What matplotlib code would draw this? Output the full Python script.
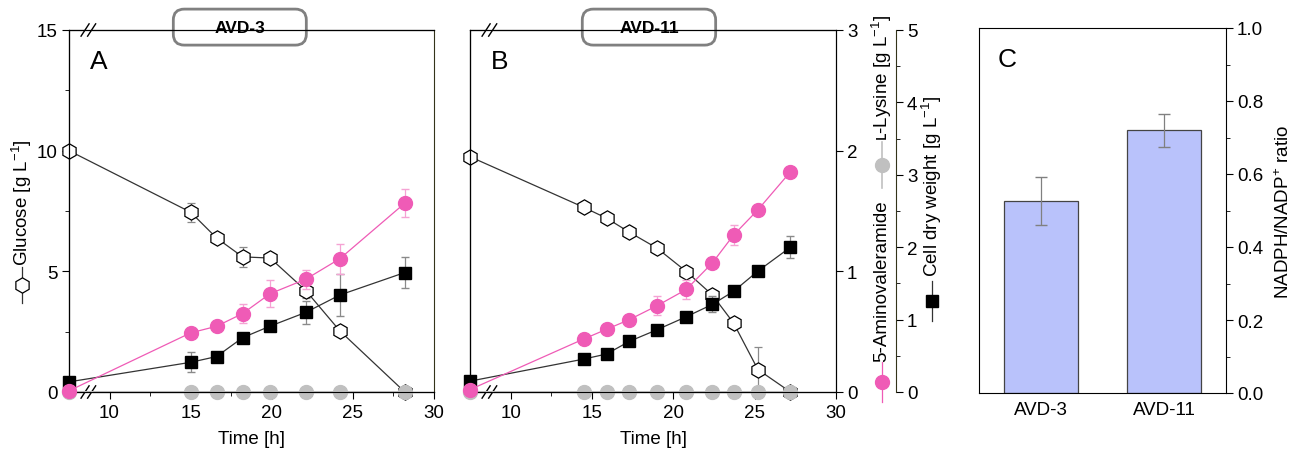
import numpy as np
import matplotlib
matplotlib.use("Agg")
import matplotlib.pyplot as plt
from matplotlib.lines import Line2D
from matplotlib.patches import FancyBboxPatch
from matplotlib.ticker import MultipleLocator, NullLocator, FormatStrFormatter

plt.rcParams["font.family"] = ["Liberation Sans", "DejaVu Sans"]
plt.rcParams["mathtext.fontset"] = "custom"
plt.rcParams["mathtext.rm"] = "Liberation Sans"
plt.rcParams["mathtext.it"] = "Liberation Sans:italic"
plt.rcParams["mathtext.bf"] = "Liberation Sans:bold"

# ---- panel A (AVD-3) ----
time_a = [7.5, 15.0, 16.6, 18.2, 19.9, 22.1, 24.2, 28.2]
glc_a = [10.0, 7.45, 6.38, 5.6, 5.55, 4.2, 2.53, 0.0]
glc_a_err = [0, 0.4, 0.1, 0.4, 0.1, 0.3, 0.15, 0]
ava_a = [0.01, 0.49, 0.545, 0.65, 0.815, 0.935, 1.105, 1.565]
ava_a_err = [0, 0.02, 0.02, 0.08, 0.11, 0.08, 0.125, 0.115]
lys_a = [0, 0, 0, 0, 0, 0, 0, 0]
cdw_a = [0.14, 0.41, 0.49, 0.75, 0.91, 1.10, 1.34, 1.65]
cdw_a_err = [0, 0.14, 0.03, 0.03, 0.05, 0.16, 0.29, 0.21]

# ---- panel B (AVD-11) ----
time_b = [7.5, 14.5, 15.9, 17.3, 19.0, 20.8, 22.4, 23.7, 25.2, 27.2]
glc_b = [9.75, 7.65, 7.2, 6.62, 5.96, 4.99, 4.02, 2.86, 0.93, 0.0]
glc_b_err = [0, 0.15, 0.15, 0.15, 0.15, 0.1, 0.15, 0.1, 0.95, 0]
ava_b = [0.02, 0.44, 0.52, 0.6, 0.715, 0.85, 1.07, 1.30, 1.51, 1.825]
ava_b_err = [0, 0.02, 0.02, 0.03, 0.08, 0.08, 0.02, 0.08, 0.02, 0.02]
lys_b = [0, 0, 0, 0, 0, 0, 0, 0, 0, 0]
cdw_b = [0.15, 0.455, 0.525, 0.70, 0.86, 1.04, 1.21, 1.39, 1.67, 2.0]
cdw_b_err = [0, 0.02, 0.02, 0.02, 0.02, 0.03, 0.11, 0.03, 0.03, 0.15]

# ---- panel C ----
strains = ["AVD-3", "AVD-11"]
nadph_ratio = [0.526, 0.72]
nadph_err = [0.066, 0.045]

PINK = "#ef5bb6"
GRAY = "#c0c0c0"
BAR = "#b9c2fb"
FS = 13.5
W, H = 1291, 456

fig = plt.figure(figsize=(W / 100, H / 100), dpi=100)


def px(x, y):
    return x / W, 1 - y / H


def axes_rect(x0, x1, y0, y1):
    return [x0 / W, 1 - y1 / H, (x1 - x0) / W, (y1 - y0) / H]


def break_marks(ax, xpos):
    for yy in (0, 1):
        ax.plot([xpos - 0.006, xpos + 0.006], [yy, yy], color="white", lw=2,
                transform=ax.transAxes, clip_on=False, zorder=10)
        for dx in (-0.009, 0.009):
            ax.plot([xpos + dx - 0.011, xpos + dx + 0.011], [yy - 0.017, yy + 0.017],
                    color="black", lw=1.0, transform=ax.transAxes, clip_on=False, zorder=11)


def title_box(ax, xc, text):
    bw, bh = 133 / 365, 36 / 362
    box = FancyBboxPatch((xc - bw / 2, 1.008 - bh / 2), bw, bh,
                         boxstyle="round,pad=0,rounding_size=0.03",
                         transform=ax.transAxes, facecolor="white",
                         edgecolor="#808080", lw=2, clip_on=False, zorder=12)
    ax.add_patch(box)
    ax.text(xc, 1.008, text, transform=ax.transAxes, ha="center", va="center",
            fontsize=12.5, fontweight="bold", zorder=13)


def time_panel(rect, t, glc, glc_err, ava, ava_err, lys, cdw, cdw_err,
               letter, name, show_left, show_right):
    ax = fig.add_axes(rect)
    ax_c = ax.twinx()
    ax_p = ax.twinx()

    ax.errorbar(t, glc, yerr=glc_err, color="#333333", lw=0.9, marker="h",
                ms=11, mfc="white", mec="black", mew=0.9, ecolor="#8a8a8a",
                elinewidth=0.9, capsize=3, clip_on=False, zorder=3)
    ax_c.errorbar(t, cdw, yerr=cdw_err, color="#333333", lw=0.9, marker="s",
                  ms=8.5, mfc="black", mec="black", ecolor="#8a8a8a",
                  elinewidth=0.9, capsize=3, clip_on=False, zorder=3)
    ax_p.plot(t, lys, color=GRAY, lw=1.5, marker="o", ms=10, mec=GRAY,
              clip_on=False, zorder=2)
    ax_p.errorbar(t, ava, yerr=ava_err, color=PINK, lw=0.9, marker="o",
                  ms=10, mec=PINK, ecolor="#f5a3d4", elinewidth=0.9,
                  capsize=3, clip_on=False, zorder=3)

    ax.set_xlim(7.5, 30)
    ax.set_ylim(0, 15)
    ax_p.set_ylim(0, 3)
    ax_c.set_ylim(0, 5)

    ax.xaxis.set_major_locator(MultipleLocator(5))
    ax.xaxis.set_minor_locator(MultipleLocator(2.5))
    ax.tick_params(axis="x", which="major", direction="out", length=5,
                   labelsize=FS, pad=4)
    ax.tick_params(axis="x", which="minor", direction="out", length=3)
    ax.set_xlabel("Time [h]", fontsize=FS, labelpad=6)

    if show_left:
        ax.yaxis.set_major_locator(MultipleLocator(5))
        ax.yaxis.set_minor_locator(MultipleLocator(2.5))
        ax.tick_params(axis="y", which="major", direction="out", length=5,
                       labelsize=FS, pad=3)
        ax.tick_params(axis="y", which="minor", direction="out", length=3)
    else:
        ax.yaxis.set_major_locator(NullLocator())
        ax.yaxis.set_minor_locator(NullLocator())

    for a in (ax_c, ax_p):
        a.spines["right"].set_visible(False)
        a.yaxis.set_major_locator(NullLocator())
        a.yaxis.set_minor_locator(NullLocator())

    if show_right:
        ax_p.spines["right"].set_visible(True)
        ax_p.yaxis.set_major_locator(MultipleLocator(1))
        ax_p.tick_params(axis="y", direction="out", length=5, labelsize=FS, pad=3)
        ax_c.spines["right"].set_visible(True)
        # 60 px outward at 100 dpi
        ax_c.spines["right"].set_position(("outward", 43.2))
        ax_c.spines["right"].set_color("#33331a")
        ax_c.yaxis.set_major_locator(MultipleLocator(1))
        ax_c.yaxis.set_minor_locator(MultipleLocator(0.5))
        ax_c.tick_params(axis="y", which="major", direction="out", length=5,
                         labelsize=FS, pad=3)
        ax_c.tick_params(axis="y", which="minor", direction="out", length=3)
    else:
        ax.spines["right"].set_color("#33331a")

    ax.text(0.058, 0.915, letter, transform=ax.transAxes, fontsize=19,
            ha="left", va="center")
    break_marks(ax, 0.053)
    title_box(ax, 0.468 if name == "AVD-3" else 0.489, name)
    return ax


time_panel(axes_rect(69, 434, 31, 393), time_a, glc_a, glc_a_err, ava_a,
           ava_a_err, lys_a, cdw_a, cdw_a_err, "A", "AVD-3", True, False)
time_panel(axes_rect(470, 836, 31, 393), time_b, glc_b, glc_b_err, ava_b,
           ava_b_err, lys_b, cdw_b, cdw_b_err, "B", "AVD-11", False, True)


# ---- axis titles with symbols ----
def symbol(x, yc, half, **kw):
    x0, y0 = px(x, yc - half)
    _, y1 = px(x, yc)
    _, y2 = px(x, yc + half)
    fig.add_artist(Line2D([x0, x0, x0], [y0, y1, y2], markevery=[1],
                          transform=fig.transFigure, **kw))


def vlabel(x, y_bottom, text):
    fig.text(*px(x, y_bottom), text, rotation=90, ha="center", va="bottom",
             fontsize=FS)


symbol(22, 286, 18, color="#333333", lw=0.9, marker="h", ms=11,
       mfc="white", mec="black", mew=0.9)
vlabel(22, 266, r"Glucose [g L$^{-1}$]")

symbol(882, 383, 20, color=PINK, lw=0.9, marker="o", ms=10, mec=PINK)
vlabel(882, 362, "5-Aminovaleramide")
symbol(882, 166, 23, color=GRAY, lw=1.2, marker="o", ms=10, mec=GRAY)
vlabel(882, 141, r"ʟ-Lysine [g L$^{-1}$]")

symbol(932, 302, 20, color="#333333", lw=0.9, marker="s", ms=8.5,
       mfc="black", mec="black")
vlabel(932, 277, r"Cell dry weight [g L$^{-1}$]")

# ---- panel C ----
axc = fig.add_axes(axes_rect(979, 1226, 29, 394))
xpos = np.arange(len(strains))
axc.bar(xpos, nadph_ratio, width=0.6, color=BAR, edgecolor="#444444", lw=0.9,
        zorder=2)
axc.errorbar(xpos, nadph_ratio, yerr=nadph_err, fmt="none", ecolor="#808080",
             elinewidth=0.9, capsize=4, zorder=3)
axc.set_xlim(-0.5, 1.5)
axc.set_ylim(0, 1.0)
axc.set_xticks(xpos)
axc.set_xticklabels(strains)
axc.tick_params(axis="x", length=0, labelsize=FS, pad=6)
axc.yaxis.tick_right()
axc.yaxis.set_label_position("right")
axc.yaxis.set_major_locator(MultipleLocator(0.2))
axc.yaxis.set_minor_locator(MultipleLocator(0.1))
axc.yaxis.set_major_formatter(FormatStrFormatter("%.1f"))
axc.tick_params(axis="y", which="major", direction="out", length=5,
                labelsize=FS, pad=3)
axc.tick_params(axis="y", which="minor", direction="out", length=3)
axc.set_ylabel(r"NADPH/NADP$^{+}$ ratio", fontsize=FS, labelpad=8)
axc.text(0.077, 0.915, "C", transform=axc.transAxes, fontsize=19,
         ha="left", va="center")

fig.savefig("out.png", dpi=100)
